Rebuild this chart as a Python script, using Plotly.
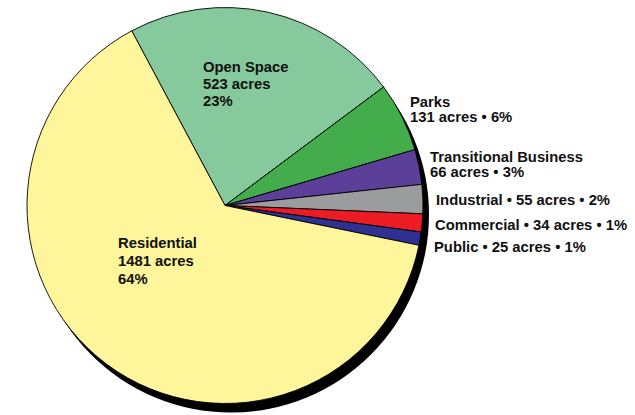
import plotly.graph_objects as go

# ---- data ----
labels = ["Open Space", "Parks", "Transitional Business", "Industrial",
          "Commercial", "Public", "Residential"]
acres = [523, 131, 66, 55, 34, 25, 1481]
percents = [23, 6, 3, 2, 1, 1, 64]
colors = ["#85C99C", "#42AD4A", "#5C3F99", "#9B9C9E",
          "#EC1C24", "#2E3192", "#FFF59B"]
label_styles = ["stack", "two", "two", "one", "one", "one", "stack"]

# ---- layout geometry (pixels) ----
W, H = 635, 415
CX, CY, R = 225, 205.5, 198
SHADOW_DX, SHADOW_DY = 6, 9
TEXT_DX = -2
label_pos = {
    "Open Space": (203, [67, 84, 101]),
    "Parks": (410, [102, 117]),
    "Transitional Business": (430, [157, 172]),
    "Industrial": (436, [200]),
    "Commercial": (435, [225]),
    "Public": (434, [247]),
    "Residential": (118, [243, 261, 279]),
}

def px_x(x):
    return x / W

def px_y(y):
    return 1 - y / H

fig = go.Figure()
fig.add_trace(go.Pie(
    labels=labels,
    values=acres,
    sort=False,
    direction="clockwise",
    rotation=-28.1,
    marker=dict(colors=colors, line=dict(color="#000000", width=0.9)),
    textinfo="none",
    hoverinfo="label+value+percent",
    showlegend=False,
    domain=dict(x=[px_x(CX - R), px_x(CX + R)],
                y=[px_y(CY + R), px_y(CY - R)]),
))

# drop shadow behind the pie
fig.add_shape(type="circle", xref="paper", yref="paper", layer="below",
              x0=px_x(CX - R + SHADOW_DX), x1=px_x(CX + R + SHADOW_DX),
              y0=px_y(CY + R + SHADOW_DY), y1=px_y(CY - R + SHADOW_DY),
              fillcolor="#000000", line=dict(width=0))

annotations = []
for lab, a, p, style in zip(labels, acres, percents, label_styles):
    if style == "stack":
        lines = [lab, f"{a} acres", f"{p}%"]
    elif style == "two":
        lines = [lab, f"{a} acres • {p}%"]
    else:
        lines = [f"{lab} • {a} acres • {p}%"]
    x, ys = label_pos[lab]
    for line, y in zip(lines, ys):
        annotations.append(dict(
            text=f"<b>{line}</b>", x=px_x(x + TEXT_DX), y=px_y(y),
            xref="paper", yref="paper", xanchor="left", yanchor="middle",
            showarrow=False,
            font=dict(family="Liberation Sans, Arial, sans-serif", size=14.8,
                      color="#111111"),
        ))

fig.update_layout(
    width=W, height=H,
    margin=dict(l=0, r=0, t=0, b=0),
    paper_bgcolor="#FFFFFF",
    plot_bgcolor="#FFFFFF",
    annotations=annotations,
)

fig.write_html("out.html")
